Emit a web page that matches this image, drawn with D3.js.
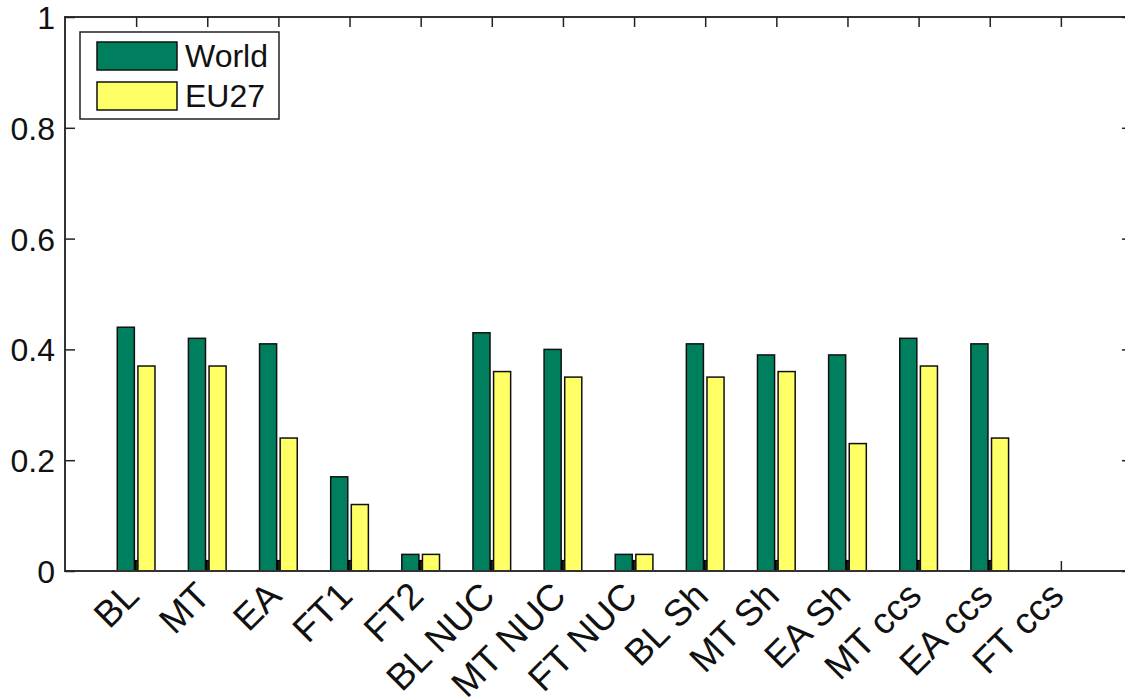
<!DOCTYPE html>
<html>
<head>
<meta charset="utf-8">
<script src="https://cdn.jsdelivr.net/npm/d3@7"></script>
<style>
  body { margin: 0; background: #fff; }
  svg { display: block; font-family: "Liberation Sans", Arial, sans-serif; }
</style>
</head>
<body>
<svg id="chart" width="1125" height="698"></svg>
<script>
// scenario names along the x axis
var categories = ['BL', 'MT', 'EA', 'FT1', 'FT2', 'BL NUC', 'MT NUC', 'FT NUC',
  'BL Sh', 'MT Sh', 'EA Sh', 'MT ccs', 'EA ccs', 'FT ccs'];
var worldValues = [0.44, 0.42, 0.41, 0.17, 0.03, 0.43, 0.40, 0.03, 0.41, 0.39, 0.39, 0.42, 0.41, 0];
var eu27Values  = [0.37, 0.37, 0.24, 0.12, 0.03, 0.36, 0.35, 0.03, 0.35, 0.36, 0.23, 0.37, 0.24, 0];
// thin dark bar drawn between the two in each group
var gapValues   = [0.02, 0.02, 0.02, 0.02, 0.02, 0.02, 0.02, 0.02, 0.02, 0.02, 0.02, 0.02, 0.02, 0];
var yTicks = [0, 0.2, 0.4, 0.6, 0.8, 1];
var seriesNames = ['World', 'EU27'];

var svg = d3.select('#chart');
// plot box (note: "top" is reserved on window, so prefix these)
var plotLeft = 65, plotRight = 1132, plotTop = 17, plotBottom = 571;

var x = d3.scaleLinear().domain([0, categories.length + 1]).range([plotLeft, plotRight]);
var y = d3.scaleLinear().domain([0, 1]).range([plotBottom, plotTop]);
var step = x(1) - x(0);

var series = [
  {name: 'World', values: worldValues, color: '#007f5f', from: -0.265, to: -0.025},
  {name: 'gap', values: gapValues, color: '#000000', from: -0.025, to: 0.025},
  {name: 'EU27', values: eu27Values, color: '#ffff66', from: 0.025, to: 0.265}
];

// bars
series.forEach(function(s){
  svg.append('g')
    .selectAll('rect')
    .data(s.values.map(function(v, i){ return {v: v, i: i}; }).filter(function(d){ return d.v > 0; }))
    .enter().append('rect')
      .attr('x', function(d){ return x(d.i + 1) + s.from * step; })
      .attr('width', (s.to - s.from) * step)
      .attr('y', function(d){ return y(d.v); })
      .attr('height', function(d){ return y(0) - y(d.v); })
      .attr('fill', s.color)
      .attr('stroke', s.name == 'gap' ? 'none' : '#111')
      .attr('stroke-width', 1.5);
});

// frame
svg.append('rect')
  .attr('x', plotLeft).attr('y', plotTop)
  .attr('width', plotRight - plotLeft).attr('height', plotBottom - plotTop)
  .attr('fill', 'none').attr('stroke', '#333').attr('stroke-width', 2);

// axes with inward ticks on all sides
var xIdx = d3.range(1, categories.length + 1);
svg.append('g').attr('transform', 'translate(0,' + plotBottom + ')')
  .call(d3.axisTop(x).tickValues(xIdx).tickSize(10).tickFormat(''))
  .call(function(g){ g.select('.domain').remove(); });
svg.append('g').attr('transform', 'translate(0,' + plotTop + ')')
  .call(d3.axisBottom(x).tickValues(xIdx).tickSize(10).tickFormat(''))
  .call(function(g){ g.select('.domain').remove(); });
svg.append('g').attr('transform', 'translate(' + plotLeft + ',0)')
  .call(d3.axisRight(y).tickValues(yTicks).tickSize(10).tickFormat(''))
  .call(function(g){ g.select('.domain').remove(); });
svg.append('g').attr('transform', 'translate(' + plotRight + ',0)')
  .call(d3.axisLeft(y).tickValues(yTicks).tickSize(10).tickFormat(''))
  .call(function(g){ g.select('.domain').remove(); });
svg.selectAll('.tick line').attr('stroke', '#222').attr('stroke-width', 1.5);

// y labels
svg.append('g').selectAll('text')
  .data(yTicks)
  .enter().append('text')
    .attr('x', plotLeft - 10)
    .attr('y', function(d){ return y(d) + 12; })
    .attr('text-anchor', 'end')
    .attr('font-size', 32)
    .attr('fill', '#111')
    .text(function(d){ return d == 0 || d == 1 ? d : d.toFixed(1); });

// x labels rotated
svg.append('g').selectAll('text')
  .data(categories)
  .enter().append('text')
    .attr('transform', function(d, i){ return 'translate(' + (x(i + 1) + 5) + ',' + (plotBottom + 27) + ') rotate(-45)'; })
    .attr('text-anchor', 'end')
    .attr('font-size', 37)
    .attr('fill', '#111')
    .text(function(d){ return d; });

// legend
var legend = svg.append('g');
legend.append('rect')
  .attr('x', 80).attr('y', 32).attr('width', 199).attr('height', 87)
  .attr('fill', '#fff').attr('stroke', '#222').attr('stroke-width', 1.5);
legend.selectAll('.item')
  .data(seriesNames)
  .enter().append('g')
    .attr('transform', function(d, i){ return 'translate(97,' + (42 + i * 40) + ')'; })
    .each(function(d, i){
      var g = d3.select(this);
      g.append('rect').attr('width', 80).attr('height', 28)
        .attr('fill', i == 0 ? '#007f5f' : '#ffff66')
        .attr('stroke', '#111').attr('stroke-width', 1.5);
      g.append('text').attr('x', 88).attr('y', 25)
        .attr('font-size', 32).attr('fill', '#111')
        .text(d);
    });
</script>
</body>
</html>
